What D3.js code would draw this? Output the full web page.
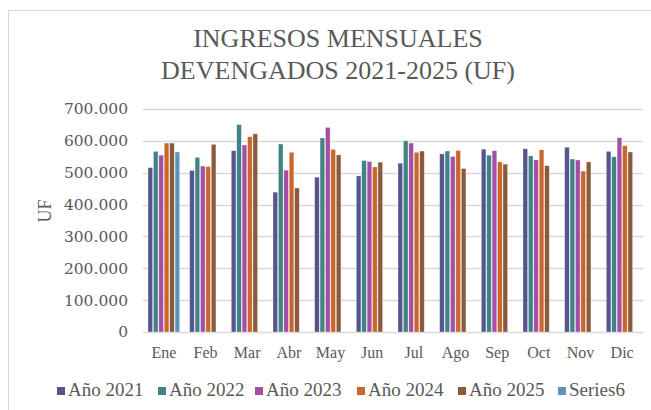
<!DOCTYPE html>
<html>
<head>
<meta charset="utf-8">
<script src="https://cdn.jsdelivr.net/npm/d3@7"></script>
<style>
  body { margin: 0; background: #fff; }
  svg { display: block; }
</style>
</head>
<body>
<svg id="chart" width="651" height="410"></svg>
<script>
const months = ["Ene", "Feb", "Mar", "Abr", "May", "Jun", "Jul", "Ago", "Sep", "Oct", "Nov", "Dic"];
const seriesNames = ["Año 2021", "Año 2022", "Año 2023", "Año 2024", "Año 2025", "Series6"];
const colors = ["#55558f", "#418383", "#a54ea6", "#c8662c", "#8b5a3b", "#5b94bc"];

const y2021 = [516000, 507000, 569000, 439000, 486000, 490000, 530000, 559000, 574000, 575000, 580000, 567000];
const y2022 = [567000, 548000, 651000, 590000, 609000, 538000, 600000, 568000, 555000, 553000, 543000, 550000];
const y2023 = [555000, 521000, 587000, 508000, 642000, 535000, 593000, 551000, 569000, 540000, 540000, 610000];
const y2024 = [593000, 519000, 613000, 564000, 573000, 518000, 564000, 570000, 534000, 572000, 505000, 585000];
const y2025 = [593000, 589000, 622000, 452000, 556000, 533000, 568000, 513000, 527000, 522000, 534000, 565000];
const series6 = [565000, null, null, null, null, null, null, null, null, null, null, null];

const yTicks = [0, 100000, 200000, 300000, 400000, 500000, 600000, 700000];

const allSeries = [y2021, y2022, y2023, y2024, y2025, series6];

const svg = d3.select("#chart");
const width = 651, height = 410;
const margin = { top: 109, right: 8, bottom: 78, left: 143 };
const innerWidth = width - margin.left - margin.right;
const innerHeight = height - margin.top - margin.bottom;
const textColor = "#595959";
const serif = "'Liberation Serif', 'DejaVu Serif', serif";

// chart border
svg.append("rect")
  .attr("x", 8.5).attr("y", 10.5)
  .attr("width", 660).attr("height", 420)
  .attr("fill", "none").attr("stroke", "#d9d9d9");

const x0 = d3.scaleBand().domain(months).range([0, innerWidth]).paddingInner(0).paddingOuter(0);
const groupW = x0.bandwidth() * 0.78;
const x1 = d3.scaleBand().domain(d3.range(seriesNames.length))
  .range([(x0.bandwidth() - groupW) / 2, (x0.bandwidth() + groupW) / 2]);
const yScale = d3.scaleLinear().domain([0, 700000]).range([innerHeight, 0]);

const g = svg.append("g").attr("transform", `translate(${margin.left},${margin.top})`);

// gridlines
g.append("g").selectAll("line").data(yTicks).join("line")
  .attr("x1", 0).attr("x2", innerWidth)
  .attr("y1", d => Math.round(yScale(d)) + 0.5).attr("y2", d => Math.round(yScale(d)) + 0.5)
  .attr("stroke", "#d9d9d9").attr("stroke-width", 1.3);

// bars
const flat = [];
allSeries.forEach((arr, si) => arr.forEach((v, mi) => { if (v != null) flat.push({ si, m: months[mi], v }); }));
g.append("g").selectAll("rect").data(flat).join("rect")
  .attr("x", d => x0(d.m) + x1(d.si) + 0.4)
  .attr("y", d => yScale(d.v))
  .attr("width", x1.bandwidth() - 0.8)
  .attr("height", d => innerHeight - yScale(d.v))
  .attr("fill", d => colors[d.si])
  .attr("stroke", "#fff").attr("stroke-opacity", 0.5).attr("stroke-width", 0.6);

// y axis
const yAxis = g.append("g").call(d3.axisLeft(yScale).tickValues(yTicks)
  .tickFormat(d => d === 0 ? "0" : d3.format(",")(d).replace(/,/g, ".")).tickSize(0).tickPadding(15))
  .attr("font-family", "'DejaVu Serif', serif").attr("font-size", 15.5);
yAxis.select(".domain").remove();
yAxis.selectAll("text").attr("fill", textColor);

// x axis
const xAxis = g.append("g").attr("transform", `translate(0,${innerHeight})`)
  .call(d3.axisBottom(x0).tickSize(0).tickPadding(15))
  .attr("font-family", serif).attr("font-size", 16);
xAxis.select(".domain").remove();
xAxis.selectAll("text").attr("fill", textColor);

// axis title
svg.append("text")
  .attr("transform", "translate(51,211) rotate(-90)")
  .attr("text-anchor", "middle")
  .attr("font-family", serif).attr("font-size", 18)
  .attr("fill", textColor)
  .text("UF");

// title
const title = svg.append("text").attr("text-anchor", "middle")
  .attr("font-family", serif).attr("font-size", 26).attr("fill", textColor);
title.append("tspan").attr("x", 338).attr("y", 47).text("INGRESOS MENSUALES");
title.append("tspan").attr("x", 338).attr("y", 79).text("DEVENGADOS 2021-2025 (UF)");

// legend
const legendX = [57, 158, 255, 357, 458, 558];
const legend = svg.append("g").selectAll("g").data(seriesNames).join("g")
  .attr("transform", (d, i) => `translate(${legendX[i]},387)`);
legend.append("rect").attr("width", 8).attr("height", 8).attr("fill", (d, i) => colors[i]);
legend.append("text").attr("x", 11).attr("y", 9)
  .attr("font-family", serif).attr("font-size", 19)
  .attr("fill", textColor).text(d => d);
</script>
</body>
</html>
